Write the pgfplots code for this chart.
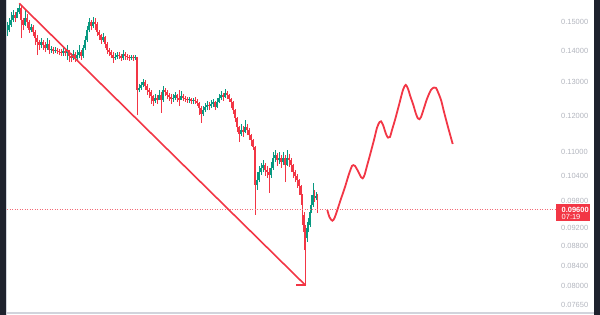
\documentclass[border=0pt]{standalone}
\usepackage{fontspec}
\setmainfont{Liberation Sans}
\usepackage{pgfplots}
\usepackage{pgfplotstable}
\pgfplotsset{compat=1.18}
\definecolor{tvred}{HTML}{F23645}
\definecolor{tvgreen}{HTML}{089981}
\definecolor{darkstrip}{HTML}{1E222D}
\definecolor{axisgray}{HTML}{B2B5BE}
\definecolor{lightline}{HTML}{D1D4DC}
\pgfplotstableread{
x o h l c d
7 .1461 .1499 .1450 .1471 1
9 .1471 .1513 .1464 .1489 1
11 .1489 .1535 .1482 .1506 1
13 .1506 .1542 .1499 .1524 1
15 .1524 .1535 .1499 .1513 0
17 .1513 .1550 .1513 .1535 1
19 .1535 .1565 .1528 .1550 1
21 .1550 .1557 .1443 .1506 0
23 .1506 .1513 .1471 .1489 0
25 .1489 .1542 .1485 .1513 1
27 .1513 .1528 .1478 .1499 0
29 .1499 .1506 .1461 .1471 0
31 .1471 .1492 .1464 .1482 1
33 .1482 .1489 .1450 .1464 0
35 .1464 .1471 .1420 .1443 0
37 .1443 .1454 .1386 .1430 0
39 .1430 .1436 .1403 .1420 0
41 .1420 .1443 .1409 .1430 1
43 .1430 .1436 .1403 .1420 0
45 .1420 .1430 .1396 .1409 0
47 .1409 .1443 .1403 .1423 1
49 .1423 .1436 .1389 .1403 0
51 .1403 .1416 .1393 .1406 1
53 .1406 .1413 .1389 .1399 0
55 .1399 .1413 .1393 .1403 1
57 .1403 .1409 .1389 .1399 0
59 .1399 .1406 .1386 .1396 0
61 .1396 .1406 .1383 .1393 0
63 .1393 .1409 .1383 .1399 1
65 .1399 .1409 .1383 .1393 0
67 .1393 .1420 .1370 .1403 1
69 .1403 .1403 .1363 .1383 0
71 .1383 .1393 .1363 .1376 0
73 .1376 .1403 .1370 .1389 1
75 .1389 .1396 .1363 .1376 0
77 .1376 .1403 .1370 .1386 1
79 .1386 .1420 .1376 .1396 1
81 .1396 .1403 .1370 .1383 0
83 .1383 .1420 .1376 .1409 1
85 .1409 .1450 .1403 .1436 1
87 .1436 .1485 .1430 .1471 1
89 .1471 .1513 .1464 .1499 1
91 .1499 .1506 .1471 .1485 0
93 .1485 .1517 .1478 .1499 1
95 .1499 .1513 .1471 .1492 0
97 .1492 .1499 .1450 .1464 0
99 .1464 .1471 .1436 .1454 0
101 .1454 .1457 .1423 .1436 0
103 .1436 .1461 .1430 .1447 1
105 .1447 .1450 .1409 .1423 0
107 .1423 .1430 .1389 .1403 0
109 .1403 .1409 .1383 .1396 0
111 .1396 .1403 .1376 .1386 0
113 .1386 .1396 .1360 .1376 0
115 .1376 .1393 .1370 .1380 1
117 .1380 .1396 .1373 .1386 1
119 .1386 .1396 .1373 .1383 0
121 .1383 .1389 .1367 .1376 0
123 .1376 .1403 .1370 .1389 1
125 .1389 .1396 .1370 .1383 0
127 .1383 .1389 .1370 .1380 0
129 .1380 .1386 .1367 .1376 0
131 .1376 .1386 .1370 .1380 1
133 .1380 .1386 .1367 .1376 0
135 .1376 .1386 .1370 .1380 1
137 .1380 .1380 .1202 .1276 0
139 .1276 .1294 .1269 .1281 1
141 .1281 .1300 .1276 .1291 1
143 .1291 .1309 .1284 .1300 1
145 .1300 .1306 .1276 .1288 0
147 .1288 .1294 .1261 .1276 0
149 .1276 .1281 .1252 .1269 0
151 .1269 .1276 .1234 .1258 0
153 .1258 .1261 .1228 .1243 0
155 .1243 .1263 .1237 .1252 1
157 .1252 .1261 .1234 .1246 0
159 .1246 .1276 .1246 .1261 1
161 .1261 .1269 .1208 .1246 0
163 .1246 .1288 .1240 .1276 1
165 .1276 .1281 .1258 .1269 0
167 .1269 .1276 .1249 .1261 0
169 .1261 .1266 .1243 .1255 0
171 .1255 .1263 .1234 .1249 0
173 .1249 .1263 .1240 .1252 1
175 .1252 .1269 .1246 .1261 1
177 .1261 .1263 .1240 .1252 0
179 .1252 .1276 .1228 .1246 0
181 .1246 .1272 .1246 .1258 1
183 .1258 .1263 .1243 .1252 0
185 .1252 .1258 .1240 .1249 0
187 .1249 .1255 .1237 .1246 0
189 .1246 .1255 .1237 .1249 1
191 .1249 .1252 .1234 .1243 0
193 .1243 .1252 .1234 .1246 1
195 .1246 .1255 .1234 .1243 0
197 .1243 .1249 .1228 .1237 0
199 .1237 .1240 .1202 .1222 0
201 .1222 .1228 .1180 .1205 0
203 .1205 .1228 .1199 .1216 1
205 .1216 .1237 .1211 .1225 1
207 .1225 .1243 .1216 .1231 1
209 .1231 .1240 .1216 .1228 0
211 .1228 .1246 .1222 .1234 1
213 .1234 .1249 .1225 .1240 1
215 .1240 .1243 .1216 .1225 0
217 .1225 .1252 .1222 .1240 1
219 .1240 .1263 .1237 .1252 1
221 .1252 .1272 .1246 .1261 1
223 .1261 .1266 .1243 .1255 0
225 .1255 .1278 .1252 .1266 1
227 .1266 .1272 .1249 .1261 0
229 .1261 .1263 .1240 .1249 0
231 .1249 .1252 .1222 .1240 0
233 .1240 .1243 .1205 .1216 0
235 .1216 .1219 .1182 .1193 0
237 .1193 .1196 .1154 .1168 0
239 .1168 .1171 .1127 .1149 0
241 .1149 .1177 .1143 .1160 1
243 .1160 .1171 .1141 .1154 0
245 .1154 .1188 .1151 .1168 1
247 .1168 .1177 .1146 .1160 0
249 .1160 .1166 .1133 .1146 0
251 .1146 .1149 .1117 .1133 0
253 .1133 .1136 .1106 .1114 0
255 .1114 .1117 .0948 .1018 0
257 .1018 .1050 .1006 .1030 1
259 .1030 .1065 .1025 .1050 1
261 .1050 .1072 .1042 .1060 1
263 .1060 .1080 .1050 .1067 1
265 .1067 .1072 .1040 .1055 0
267 .1055 .1065 .1035 .1050 0
269 .1050 .1060 .0999 .1042 0
271 .1042 .1075 .1035 .1060 1
273 .1060 .1101 .1055 .1085 1
275 .1085 .1106 .1075 .1093 1
277 .1093 .1098 .1065 .1080 0
279 .1080 .1101 .1070 .1085 1
281 .1085 .1093 .1060 .1075 0
283 .1075 .1101 .1067 .1085 1
285 .1085 .1093 .1025 .1067 0
287 .1067 .1106 .1065 .1085 1
289 .1085 .1096 .1062 .1080 0
291 .1080 .1085 .1050 .1067 0
293 .1067 .1070 .1035 .1050 0
295 .1050 .1055 .1025 .1040 0
297 .1040 .1045 .1011 .1030 0
299 .1030 .1033 .0994 .1015 0
301 .1015 .1018 .0971 .0994 0
302.5 .0994 .0996 .0926 .0948 0
304 .0948 .0955 .0872 .0910 0
305.5 .0910 .0926 .0803 .0897 0
307 .0897 .0932 .0889 .0919 1
308.5 .0919 .0941 .0910 .0926 1
310 .0926 .0971 .0921 .0955 1
311.5 .0955 .0994 .0952 .0971 1
313 .0971 .1023 .0966 .0994 1
314.5 .0994 .1006 .0978 .0987 0
316 .0987 .1001 .0982 .0992 1
317.5 .0992 .0996 .0952 .0982 0
}\candles
\begin{document}
\begin{tikzpicture}
\path[use as bounding box] (0,0) rectangle (600bp,315bp);
\begin{axis}[
  scale only axis, width=556bp, height=315bp,
  xmin=0, xmax=556, ymode=log, ymin=0.07474, ymax=0.15796,
  axis line style={draw=none}, tick style={draw=none}, major tick length=0pt,
  xtick=\empty,
  ytick={0.0765,0.08,0.084,0.088,0.092,0.098,0.104,0.11,0.12,0.13,0.14,0.15},
  yticklabels={0.07650,0.08000,0.08400,0.08800,0.09200,0.09800,0.10400,0.11000,0.12000,0.13000,0.14000,0.15000},
  yticklabel pos=right,
  yticklabel style={anchor=west, inner sep=0pt, xshift=5bp, font=\fontsize{7.5}{9}\selectfont, text=axisgray},
  candle/.style={draw=none, mark=none,
    error bars/.cd, y dir=plus, y explicit, error mark=none,
    error bar style={line width=#1, solid}, /pgfplots/.cd},
]
% wicks
\addplot[color=tvred, restrict expr to domain={\thisrow{d}}{0:0}, candle=0.6bp]
  table[x=x, y=l, y error expr=\thisrow{h}-\thisrow{l}] {\candles};
\addplot[color=tvgreen, restrict expr to domain={\thisrow{d}}{1:1}, candle=0.6bp]
  table[x=x, y=l, y error expr=\thisrow{h}-\thisrow{l}] {\candles};
% bodies
\addplot[color=tvred, restrict expr to domain={\thisrow{d}}{0:0}, candle=1.4bp]
  table[x=x, y=o, y error expr=\thisrow{c}-\thisrow{o}] {\candles};
\addplot[color=tvgreen, restrict expr to domain={\thisrow{d}}{1:1}, candle=1.4bp]
  table[x=x, y=o, y error expr=\thisrow{c}-\thisrow{o}] {\candles};
% current price line
\addplot[tvred!75, line width=0.6bp, dash pattern=on 1bp off 1.5bp] coordinates {(7,0.096) (556,0.096)};
% trend line
\addplot[tvred, line width=1.6bp] coordinates {(19.3,0.1567) (305.5,0.0802)};
\addplot[tvred, line width=1.6bp] coordinates {(296,0.0802) (306,0.0802)};
% projection
\addplot[tvred, line width=1.8bp, smooth, tension=0.5] coordinates {
(327.3,.0959) (329.5,.0943) (332.3,.0935) (334.5,.0941) (337,.0957) (341,.0985)
(345,.1013) (349,.1045) (352,.1065) (353.3,.1067) (355,.1065) (358,.1052)
(361,.1037) (362.7,.1034) (364.5,.1042) (367,.1065) (370,.1093) (374,.1133)
(377,.1166) (379.5,.1182) (381,.1184) (383,.1174) (386,.1149) (388,.1139)
(390,.1141) (392,.1160) (395,.1188) (399,.1231) (403,.1276) (405.7,.1291)
(408,.1279) (410.5,.1255) (413,.1234) (416,.1205) (418,.1192) (419.5,.1190)
(421,.1196) (424,.1222) (427,.1249) (431,.1276) (434,.1283) (436,.1282)
(438,.1269) (441,.1246) (444,.1211) (448,.1168) (452.7,.1122)};
\end{axis}
% frame decorations
\fill[darkstrip] (0,0) rectangle (5.5bp,315bp);
\fill[lightline] (5.5bp,0) rectangle (6.5bp,315bp);
\fill[darkstrip] (593.5bp,0) rectangle (600bp,315bp);
\fill[lightline] (6.5bp,1.5bp) rectangle (593.5bp,3bp);
% price label
\fill[tvred] (556bp,110.7bp) rectangle (590bp,94bp);
\node[anchor=west, inner sep=0pt, text=white, font=\fontsize{7.5}{9}\selectfont\bfseries] at (561.5bp,105.3bp) {0.09600};
\node[anchor=west, inner sep=0pt, text=white, font=\fontsize{7.5}{9}\selectfont] at (561.5bp,97.8bp) {07:19};
\end{tikzpicture}
\end{document}
